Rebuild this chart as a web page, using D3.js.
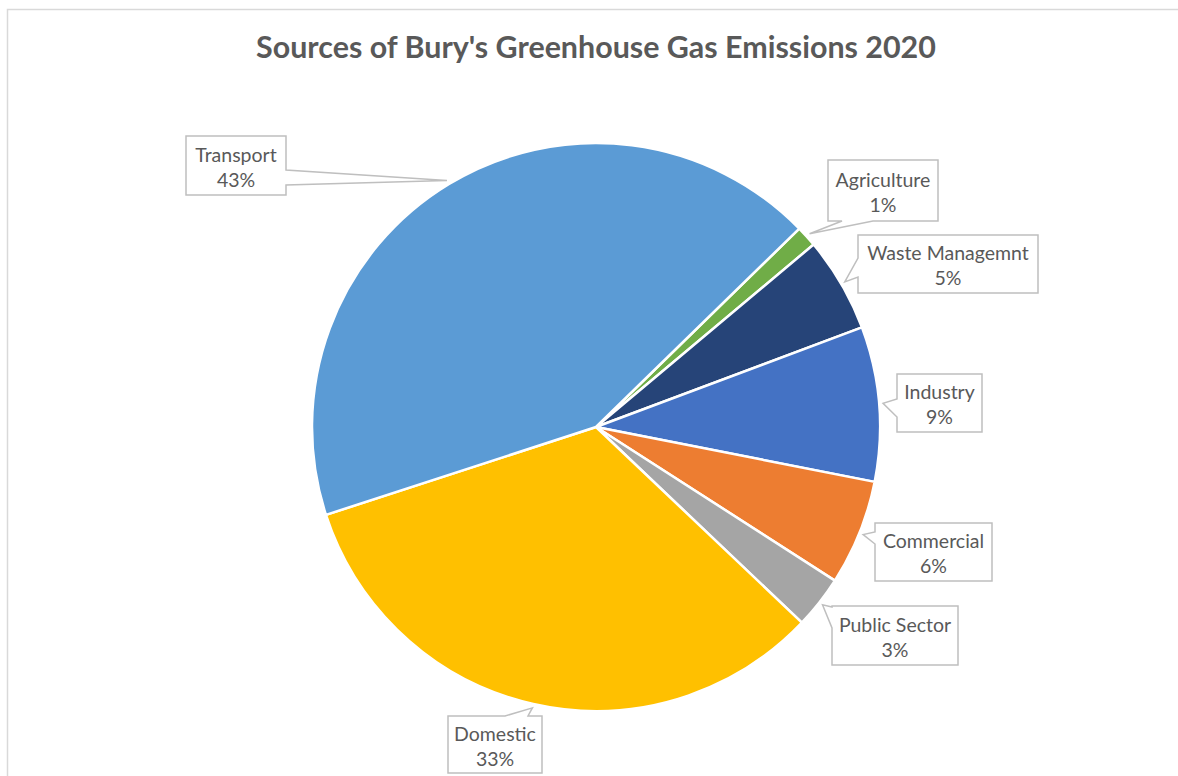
<!DOCTYPE html>
<html><head><meta charset="utf-8">
<script src="https://cdn.jsdelivr.net/npm/d3@7"></script>
<style>html,body{margin:0;padding:0;background:#fff;}svg{display:block;}</style>
</head><body>
<svg id="c" width="1178" height="776"></svg>
<script>
const categories = ["Agriculture","Waste Managemnt","Industry","Commercial","Public Sector","Domestic","Transport"];
const values = [1.2, 5.4, 8.8, 6.0, 3.0, 32.9, 42.7];
const colors = ["#70AD47","#264478","#4472C4","#ED7D31","#A5A5A5","#FFC000","#5B9BD5"];
const title = "Sources of Bury's Greenhouse Gas Emissions 2020";

// label box layout: box [x,y,w,h], side of wedge, wedge base [a,b] along that side
const labelLayout = {
  "Agriculture":     {box:[828,160,110,61], side:"bottom", base:[842,873]},
  "Waste Managemnt": {box:[858,235,180,58], side:"left", base:[258,277]},
  "Industry":        {box:[897,374,85,58], side:"left", base:[399,417]},
  "Commercial":      {box:[875,523,117,58], side:"left", base:[532,544]},
  "Public Sector":   {box:[832,606,126,59], side:"left", base:[607,628]},
  "Domestic":        {box:[448,716,94,57], side:"top", base:[505,528]},
  "Transport":       {box:[186,136,100,59], side:"right", base:[170,185]}
};

const svg = d3.select("#c");
const cx = 596, cy = 427, R = 284;
const startDeg = 45.7;

// chart area border
svg.append("path").attr("d","M7.5,776 L7.5,9.5 L1178,9.5").attr("fill","none").attr("stroke","#d9d9d9").attr("stroke-width",1.5);

const t = svg.append("text").attr("x",cx).attr("y",58).attr("text-anchor","middle")
  .attr("font-family","Lato, 'Open Sans', sans-serif").attr("font-weight","bold")
  .attr("font-size",26).attr("fill","#595959").text(title);
const tw = t.node().getComputedTextLength();
t.attr("font-size", 26*680/tw);

const data = categories.map((c,i)=>({name:c, value:values[i], color:colors[i]}));
const total = d3.sum(values);
const pie = d3.pie().sort(null).value(d=>d.value)
  .startAngle(startDeg*Math.PI/180).endAngle(startDeg*Math.PI/180 + 2*Math.PI);
const arcs = pie(data);
const arc = d3.arc().innerRadius(0).outerRadius(R);

const g = svg.append("g").attr("transform",`translate(${cx},${cy})`);
g.selectAll("path").data(arcs).join("path")
  .attr("d",arc).attr("fill",d=>d.data.color).attr("stroke","#fff").attr("stroke-width",2.5).attr("stroke-linejoin","round");

const fmt = d3.format(".0%");
arcs.forEach(a=>{
  const L = labelLayout[a.data.name];
  const mid = (a.startAngle+a.endAngle)/2;
  const tip = [cx + (R+4)*Math.sin(mid), cy - (R+4)*Math.cos(mid)];
  const [x,y,w,h] = L.box;
  const [b0,b1] = L.base;
  let pts;
  if (L.side==="left") pts = [[x,y],[x+w,y],[x+w,y+h],[x,y+h],[x,b1],tip,[x,b0]];
  else if (L.side==="right") pts = [[x,y],[x+w,y],[x+w,b0],tip,[x+w,b1],[x+w,y+h],[x,y+h]];
  else if (L.side==="top") pts = [[x,y],[b0,y],tip,[b1,y],[x+w,y],[x+w,y+h],[x,y+h]];
  else pts = [[x,y],[x+w,y],[x+w,y+h],[b1,y+h],tip,[b0,y+h],[x,y+h]];
  svg.append("path").attr("d","M"+pts.map(p=>p.join(",")).join("L")+"Z")
    .attr("fill","#fff").attr("stroke","#bfbfbf").attr("stroke-width",1.5).attr("stroke-linejoin","miter");
  const tx = svg.append("text").attr("text-anchor","middle")
    .attr("font-family","Lato, 'Open Sans', sans-serif").attr("font-size",19.5).attr("fill","#595959");
  tx.append("tspan").attr("x",x+w/2).attr("y",y+h/2-4).text(a.data.name);
  tx.append("tspan").attr("x",x+w/2).attr("y",y+h/2+21).text(fmt(a.data.value/total));
});
</script>
</body></html>
